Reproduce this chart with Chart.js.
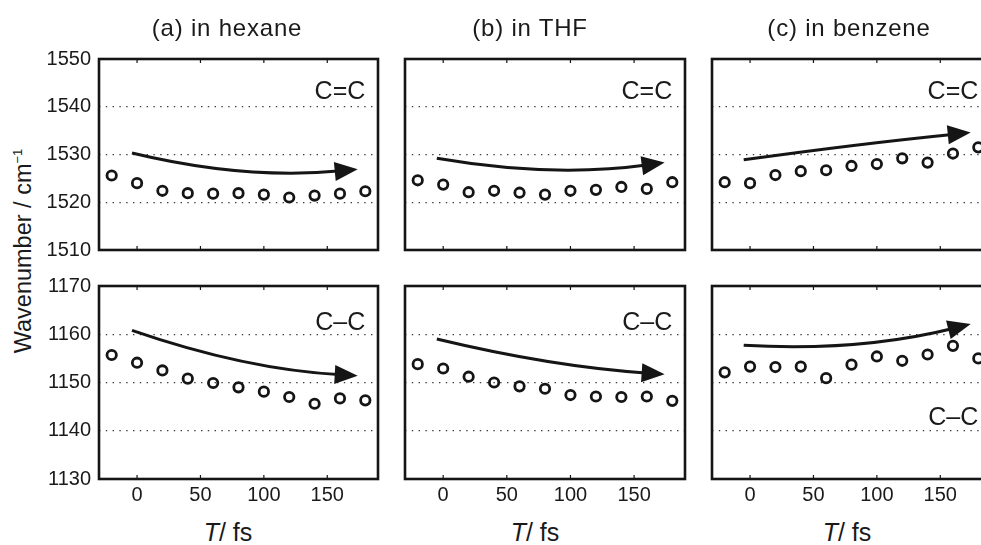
<!DOCTYPE html>
<html>
<head>
<meta charset="utf-8">
<script src="https://cdn.jsdelivr.net/npm/chart.js@4.4.1/dist/chart.umd.min.js"></script>
<style>
  html, body { margin: 0; padding: 0; background: #fff; overflow: hidden; }
  #wrap { position: relative; width: 981px; height: 545px; overflow: hidden;
          font-family: "Liberation Sans", Arial, sans-serif; color: #1a1a1a; }
  #wrap canvas { position: absolute; }
  .title { position: absolute; top: 16px; font-size: 24px; line-height: 1; letter-spacing: 0.8px;
           transform: translateX(-50%); white-space: nowrap; }
  .xtitle { position: absolute; top: 520px; font-size: 25px; line-height: 1;
            transform: translateX(-50%); white-space: nowrap; }
  .ytitle { position: absolute; left: 23px; top: 251px; font-size: 23.5px; line-height: 1;
            transform: translate(-50%, -50%) rotate(-90deg); white-space: nowrap; }
  .ytitle sup { font-size: 13px; }
</style>
</head>
<body>
<div id="wrap">
  <div class="ytitle">Wavenumber / cm<sup>−1</sup></div>
</div>
<script>
// delay times (fs)
const times = [-20, 0, 20, 40, 60, 80, 100, 120, 140, 160, 180];
const xTicks = [0, 50, 100, 150];
const yTicksDouble = [1510, 1520, 1530, 1540, 1550];
const yTicksSingle = [1130, 1140, 1150, 1160, 1170];

// C=C band
const hexaneDouble  = [1525.6, 1524.0, 1522.4, 1521.9, 1521.8, 1521.9, 1521.6, 1521.0, 1521.4, 1521.8, 1522.3];
const thfDouble     = [1524.6, 1523.7, 1522.1, 1522.4, 1522.0, 1521.6, 1522.4, 1522.6, 1523.2, 1522.8, 1524.2];
const benzeneDouble = [1524.2, 1524.0, 1525.7, 1526.5, 1526.7, 1527.6, 1528.0, 1529.2, 1528.3, 1530.2, 1531.5];
// C-C band
const hexaneSingle  = [1155.7, 1154.1, 1152.5, 1150.8, 1149.9, 1149.0, 1148.1, 1147.0, 1145.6, 1146.7, 1146.3];
const thfSingle     = [1153.8, 1152.9, 1151.2, 1150.0, 1149.2, 1148.7, 1147.4, 1147.1, 1147.0, 1147.1, 1146.2];
const benzeneSingle = [1152.1, 1153.3, 1153.2, 1153.3, 1150.9, 1153.7, 1155.4, 1154.5, 1155.8, 1157.6, 1155.0];

// trend arrows: start, middle, tip (data units)
const hexaneDoubleArrow  = [[-4, 1530.3], [85, 1526.6], [174, 1526.9]];
const thfDoubleArrow     = [[-5, 1529.2], [85, 1526.9], [174, 1528.3]];
const benzeneDoubleArrow = [[-5, 1528.9], [85, 1532.0], [174, 1534.6]];
const hexaneSingleArrow  = [[-4, 1160.8], [85, 1154.4], [174, 1151.4]];
const thfSingleArrow     = [[-5, 1159.0], [85, 1154.3], [174, 1151.7]];
const benzeneSingleArrow = [[-5, 1157.7], [85, 1158.1], [174, 1162.1]];

const titles = ['(a) in hexane', '(b) in THF', '(c) in benzene'];

// page layout of the plot boxes
const cols = [{ l: 99, r: 378, title: 227, xt: 228 }, { l: 405, r: 685, title: 530, xt: 535 }, { l: 712, r: 991, title: 849, xt: 847 }];
const rows = [{ t: 59, b: 250 }, { t: 286, b: 479 }];
const FONT = '"Liberation Sans", Arial, sans-serif';
const INK = '#151515';
const PAD = 20;

const panelDecor = {
  id: 'panelDecor',
  afterDatasetsDraw(chart, args, opts) {
    const { ctx, chartArea: a, scales: { x, y } } = chart;
    ctx.save();
    ctx.strokeStyle = INK;
    ctx.lineWidth = 1.2;
    ctx.beginPath();
    xTicks.forEach(v => {
      const px = x.getPixelForValue(v);
      ctx.moveTo(px, a.top); ctx.lineTo(px, a.top + 4);
      ctx.moveTo(px, a.bottom); ctx.lineTo(px, a.bottom - 4);
    });
    ctx.stroke();
    ctx.lineWidth = 2.6;
    ctx.strokeRect(a.left, a.top, a.right - a.left, a.bottom - a.top);

    // arrow
    const [s, m, e] = opts.arrow.map(([vx, vy]) => [x.getPixelForValue(vx), y.getPixelForValue(vy)]);
    const c = [2 * m[0] - (s[0] + e[0]) / 2, 2 * m[1] - (s[1] + e[1]) / 2];
    let dx = e[0] - c[0], dy = e[1] - c[1];
    const len = Math.hypot(dx, dy); dx /= len; dy /= len;
    const headL = 23, headW = 9.5;
    ctx.strokeStyle = INK; ctx.fillStyle = INK;
    ctx.lineWidth = 3;
    ctx.beginPath();
    ctx.moveTo(s[0], s[1]);
    ctx.quadraticCurveTo(c[0], c[1], e[0] - dx * headL * 0.7, e[1] - dy * headL * 0.7);
    ctx.stroke();
    const bx = e[0] - dx * headL, by = e[1] - dy * headL;
    ctx.beginPath();
    ctx.moveTo(e[0], e[1]);
    ctx.lineTo(bx - dy * headW, by + dx * headW);
    ctx.lineTo(bx + dy * headW, by - dx * headW);
    ctx.closePath();
    ctx.fill();

    // band label
    ctx.font = '25px ' + FONT;
    ctx.fillStyle = '#1a1a1a';
    ctx.textAlign = 'right';
    ctx.textBaseline = 'middle';
    ctx.fillText(opts.label.text, x.getPixelForValue(opts.label.x), y.getPixelForValue(opts.label.y));
    ctx.restore();
  }
};

const wrap = document.getElementById('wrap');

function panel(col, row, values, arrow, label) {
  const c = cols[col], r = rows[row];
  const left = col === 0 ? 0 : c.l - 8;
  const top = r.t - PAD;
  const bottom = row === 1 ? 512 : r.b + PAD;
  const right = c.r + 8;
  const yTicks = row === 0 ? yTicksDouble : yTicksSingle;

  const cv = document.createElement('canvas');
  cv.width = right - left;
  cv.height = bottom - top;
  cv.style.left = left + 'px';
  cv.style.top = top + 'px';
  wrap.appendChild(cv);

  new Chart(cv, {
    type: 'scatter',
    data: {
      datasets: [{
        data: times.map((t, i) => ({ x: t, y: values[i] })),
        pointStyle: 'circle',
        pointRadius: 4.7,
        pointHoverRadius: 4.7,
        pointBorderWidth: 2.8,
        pointBorderColor: INK,
        pointBackgroundColor: 'rgba(255,255,255,0)'
      }]
    },
    options: {
      responsive: false,
      animation: false,
      events: [],
      layout: { padding: { top: PAD, right: 8, left: 0, bottom: 0 } },
      plugins: {
        legend: { display: false },
        tooltip: { enabled: false },
        panelDecor: { arrow, label }
      },
      scales: {
        x: {
          type: 'linear', min: -30, max: 190,
          afterBuildTicks: s => { s.ticks = xTicks.map(v => ({ value: v })); },
          afterFit: s => { s.height = bottom - r.b; },
          grid: { display: false, drawTicks: false },
          border: { display: false },
          ticks: { display: row === 1, padding: 4, maxRotation: 0, color: '#1a1a1a',
                   font: { family: FONT, size: 20 }, callback: v => String(v) }
        },
        y: {
          type: 'linear', min: yTicks[0], max: yTicks[yTicks.length - 1],
          afterBuildTicks: s => { s.ticks = yTicks.map(v => ({ value: v })); },
          afterFit: s => { s.width = c.l - left; },
          grid: { color: '#3a3a3a', lineWidth: 1.3, drawTicks: false },
          border: { display: false, dash: [1.4, 5.4] },
          ticks: { display: col === 0, padding: 8, color: '#1a1a1a',
                   font: { family: FONT, size: 20 }, callback: v => String(v) }
        }
      }
    },
    plugins: [panelDecor]
  });
}

panel(0, 0, hexaneDouble, hexaneDoubleArrow, { text: 'C=C', x: 180, y: 1543 });
panel(1, 0, thfDouble, thfDoubleArrow, { text: 'C=C', x: 180, y: 1543 });
panel(2, 0, benzeneDouble, benzeneDoubleArrow, { text: 'C=C', x: 180, y: 1543 });
panel(0, 1, hexaneSingle, hexaneSingleArrow, { text: 'C–C', x: 180, y: 1162.3 });
panel(1, 1, thfSingle, thfSingleArrow, { text: 'C–C', x: 180, y: 1162.3 });
panel(2, 1, benzeneSingle, benzeneSingleArrow, { text: 'C–C', x: 180, y: 1142.6 });

cols.forEach((c, i) => {
  const t = document.createElement('div');
  t.className = 'title';
  t.style.left = c.title + 'px';
  t.textContent = titles[i];
  wrap.appendChild(t);
  const xt = document.createElement('div');
  xt.className = 'xtitle';
  xt.style.left = c.xt + 'px';
  xt.innerHTML = '<i>T</i>/ fs';
  wrap.appendChild(xt);
});
</script>
</body>
</html>
